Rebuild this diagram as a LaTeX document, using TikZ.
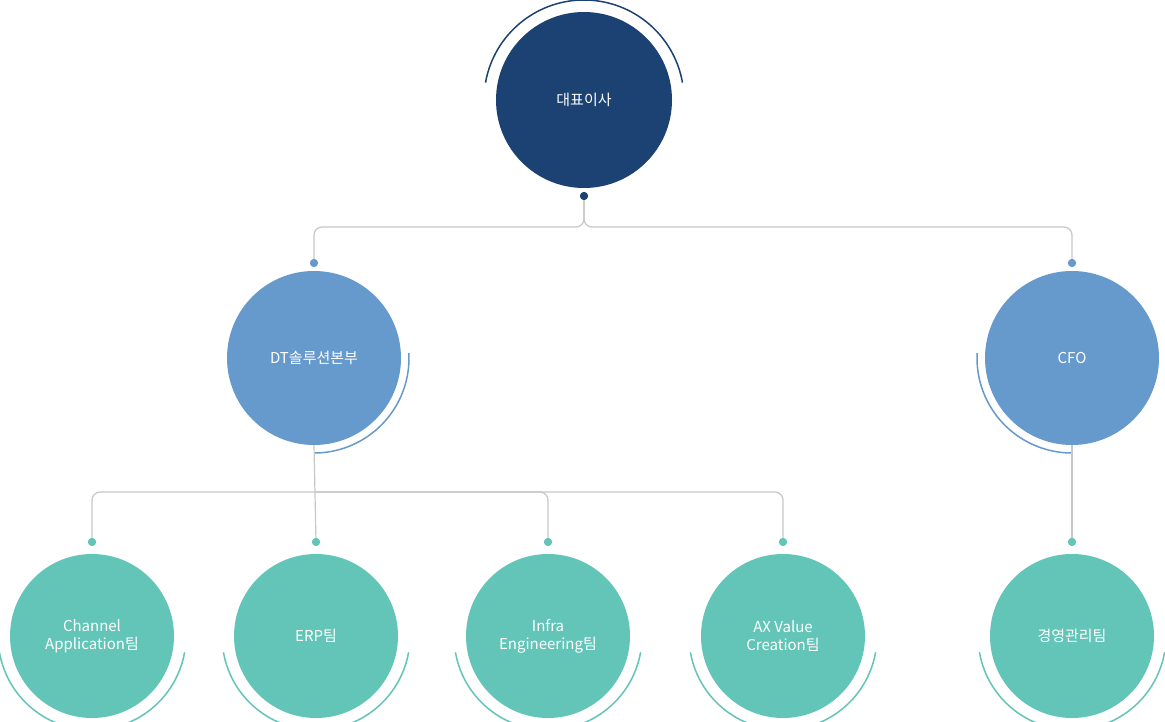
\documentclass[tikz,border=0pt]{standalone}
\usepackage{fontspec}
\setmainfont{Noto Sans CJK KR}
\begin{document}
\begin{tikzpicture}[x=1pt,y=-1pt,
  conn/.style={draw=black!22,line width=1.2pt,rounded corners=8pt},
  lbl/.style={text=white,font=\fontsize{15}{18}\selectfont,align=center},
  topc/.style={circle,fill=navy,minimum size=176pt,inner sep=0pt,lbl},
  midc/.style={circle,fill=midblue,minimum size=174pt,inner sep=0pt,lbl},
  botc/.style={circle,fill=teal1,minimum size=164pt,inner sep=0pt,lbl},
  dot/.style={circle,inner sep=0pt,minimum size=8pt}]
\definecolor{navy}{HTML}{1B4272}
\definecolor{midblue}{HTML}{6699CC}
\definecolor{teal1}{HTML}{63C5B8}
\useasboundingbox[fill=white] (0,0) rectangle (1165,722);
% top
\node[topc] (ceo) at (584,100) {대표이사};
\draw[navy,line width=1.5pt] (584,100) ++(190:100) arc[start angle=190,end angle=350,radius=100];
\node[dot,fill=navy] (d0) at (584,196) {};
% mid
\node[midc] (dt) at (314,358) {DT솔루션본부};
\draw[midblue,line width=1.5pt] (314,358) ++(90:95) arc[start angle=90,end angle=-3,radius=95];
\node[dot,fill=midblue] (d1) at (314,263) {};
\node[midc] (cfo) at (1072,358) {CFO};
\draw[midblue,line width=1.5pt] (1072,358) ++(90:95) arc[start angle=90,end angle=183,radius=95];
\node[dot,fill=midblue] (d2) at (1072,263) {};
% bottom
\foreach \n/\x/\t in {b1/92/{Channel\\Application팀}, b2/316/{ERP팀}, b3/548/{Infra\\Engineering팀}, b4/783/{AX Value\\Creation팀}, b5/1072/{경영관리팀}}{
  \node[botc] (\n) at (\x,636) {\t};
  \draw[teal1,line width=1.5pt] (\x,636) ++(170:94) arc[start angle=170,end angle=10,radius=94];
  \node[dot,fill=teal1] (d\n) at (\x,542) {};
}
% connectors
\draw[conn] (d0) |- (314,227) -- (d1);
\draw[conn] (d0) |- (1072,227) -- (d2);
\draw[conn] (dt.south) -- (db2);
\draw[conn] (316,492) -| (db1);
\draw[conn] (316,492) -| (db3);
\draw[conn] (316,492) -| (db4);
\draw[conn] (cfo.south) -- (db5);
\foreach \n in {d0,d1,d2,db1,db2,db3,db4,db5}{\path (\n);}
\node[dot,fill=navy] at (d0) {};
\node[dot,fill=midblue] at (d1) {};
\node[dot,fill=midblue] at (d2) {};
\foreach \n in {db1,db2,db3,db4,db5}{\node[dot,fill=teal1] at (\n) {};}
\end{tikzpicture}
\end{document}
